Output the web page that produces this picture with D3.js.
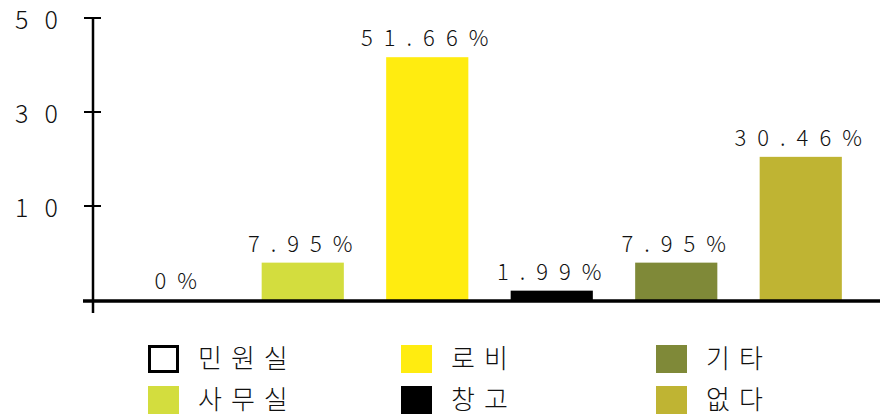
<!DOCTYPE html>
<html><head><meta charset="utf-8">
<script src="https://cdn.jsdelivr.net/npm/d3@7/dist/d3.min.js"></script>
<style>body{margin:0;background:#fff}svg{display:block}text{font-family:"Noto Sans CJK KR","Noto Sans",sans-serif;fill:#111}</style>
</head><body>
<svg id="c" width="880" height="417"></svg>
<script>
const categories = ["민원실","사무실","로비","창고","기타","없다"];
const values = [0, 7.95, 51.66, 1.99, 7.95, 30.46];
const valueLabels = ["0%","7.95%","51.66%","1.99%","7.95%","30.46%"];
const colors = ["#ffffff","#d3dd3e","#ffec10","#000000","#7f8938","#bfb433"];
const tickValues = [20, 40, 60];
const tickLabels = ["10","30","50"];

const svg = d3.select("#c");
const baseY = 300;
const y = d3.scaleLinear().domain([0, 60]).range([baseY, 18]);
const x = d3.scaleBand().domain(categories).range([116, 863]).paddingInner(0.34).paddingOuter(0.17);

// y axis line
svg.append("line").attr("x1",93).attr("x2",93).attr("y1",y(60)).attr("y2",313).attr("stroke","#000").attr("stroke-width",2.5);
const tk = svg.selectAll(".tk").data(tickValues).enter().append("g");
tk.append("line").attr("x1",84).attr("x2",101).attr("y1",d=>y(d)).attr("y2",d=>y(d)).attr("stroke","#000").attr("stroke-width",2);
tk.append("text").attr("x",15).attr("y",d=>y(d)+11).attr("font-size",25).attr("font-weight",300).attr("letter-spacing",16).text((d,i)=>tickLabels[i]);

// bars
svg.selectAll(".bar").data(categories).enter().append("rect")
  .attr("x",d=>x(d)).attr("width",x.bandwidth())
  .attr("y",(d,i)=>y(values[i])).attr("height",(d,i)=>baseY-y(values[i]))
  .attr("fill",(d,i)=>colors[i]);

// baseline
svg.append("line").attr("x1",83).attr("x2",880).attr("y1",baseY+1).attr("y2",baseY+1).attr("stroke","#000").attr("stroke-width",3.5);

// value labels
svg.selectAll(".vl").data(categories).enter().append("text")
  .attr("x",(d,i)=>x(d)+x.bandwidth()/2+3).attr("y",(d,i)=>y(values[i])-11)
  .attr("text-anchor","middle").attr("font-size",22).attr("font-weight",300).attr("letter-spacing",11)
  .text((d,i)=>valueLabels[i]);

// legend
const legX = [148, 401, 656];
const legY = [345, 386];
const lg = svg.selectAll(".lg").data(categories).enter().append("g")
  .attr("transform",(d,i)=>`translate(${legX[i>>1]},${legY[i%2]})`);
lg.append("rect").attr("x",(d,i)=>i===0?1.5:0).attr("y",(d,i)=>i===0?1.5:0)
  .attr("width",(d,i)=>i===0?28:31).attr("height",(d,i)=>i===0?25:28)
  .attr("fill",(d,i)=>colors[i]).attr("stroke",(d,i)=>i===0?"#000":"none").attr("stroke-width",3);
lg.append("text").attr("x",50).attr("y",23).attr("font-size",26).attr("font-weight",300).attr("letter-spacing",9).text(d=>d);
</script>
</body></html>
